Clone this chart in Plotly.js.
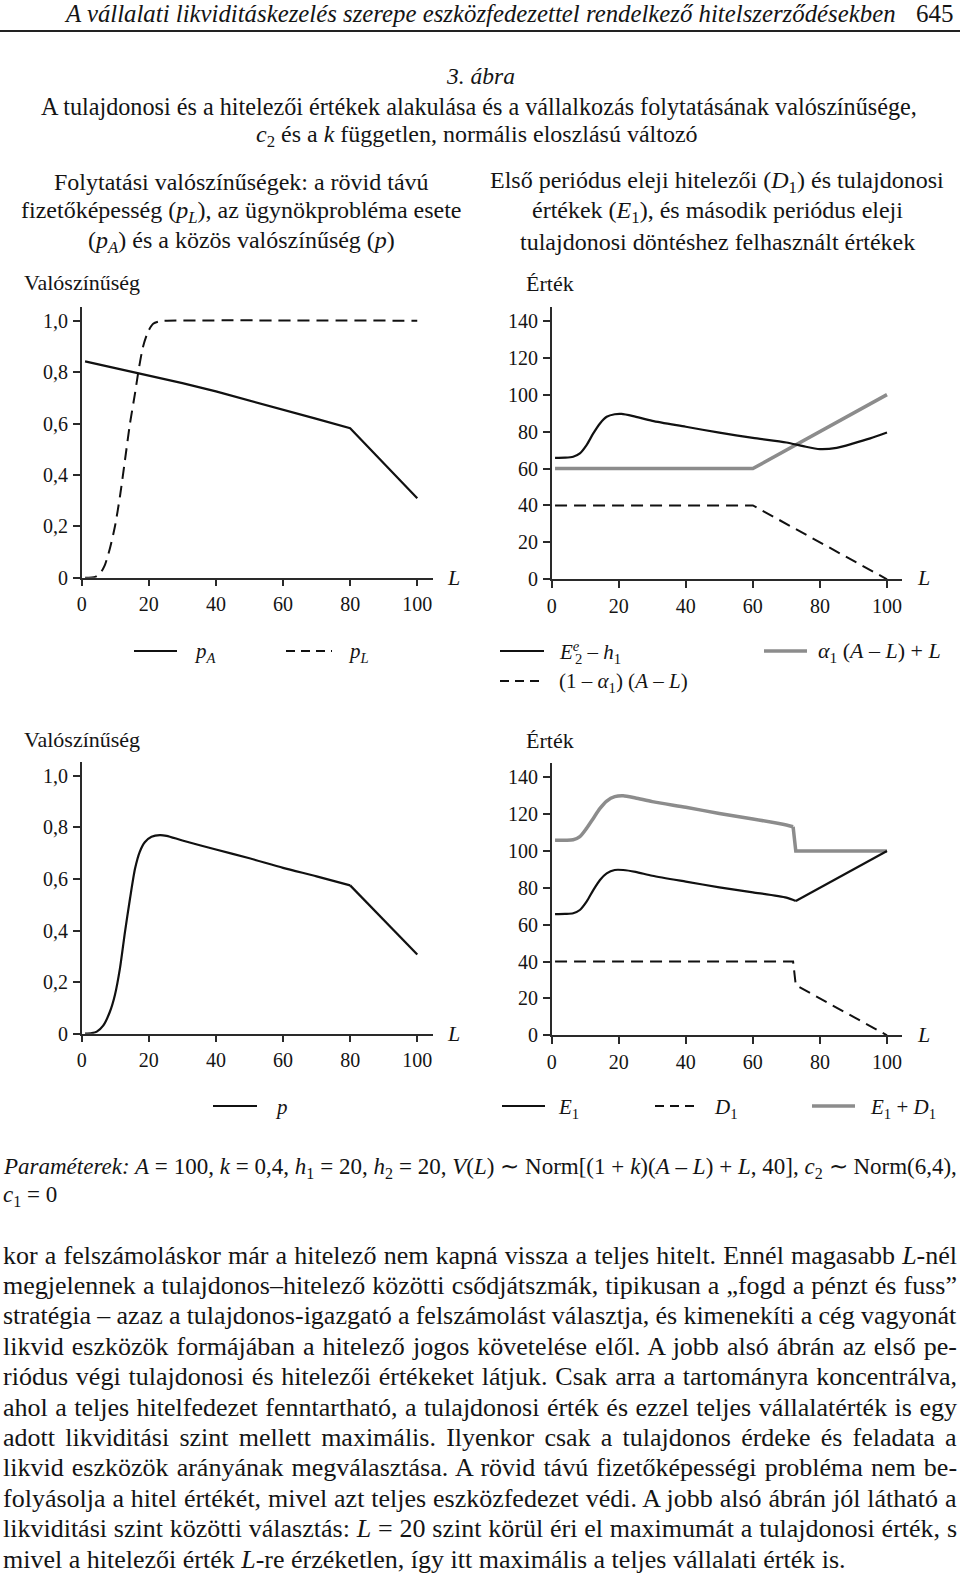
<!DOCTYPE html>
<html>
<head>
<meta charset="utf-8">
<script src="https://cdn.plot.ly/plotly-3.0.1.min.js"></script>
<style>
  html, body { margin:0; padding:0; background:#fff; }
  #chart { width:960px; height:1576px; }
</style>
</head>
<body>
<div id="chart"></div>
<script>
// ---------------- DATA ----------------
// Top-left: continuation probabilities
const L_pA = [1, 10, 20, 30, 40, 50, 60, 70, 80, 90, 100];
const pA   = [0.842, 0.816, 0.788, 0.757, 0.725, 0.690, 0.653, 0.618, 0.582, 0.445, 0.309];
const L_pL = [1, 4, 5.5, 6.9, 8.4, 9.9, 11.4, 12.9, 14.4, 15.9, 16.9, 18.3, 19.8, 21.3, 23.3, 25, 100];
const pL   = [0, 0.003, 0.017, 0.049, 0.114, 0.199, 0.316, 0.458, 0.601, 0.718, 0.803, 0.900, 0.958, 0.988, 0.998, 1, 1];

// Top-right: values used for the owner's decision
const L_E2 = [1, 4, 6.4, 8.4, 10.4, 12.4, 14.4, 16.4, 18.8, 20.8, 24.3, 30, 40, 50, 60, 70, 75, 80, 85, 90, 95, 100];
const E2h1 = [65.8, 65.9, 66.4, 68.2, 72.7, 79.0, 84.4, 88.0, 89.4, 89.6, 88.4, 85.8, 82.6, 79.4, 76.6, 74.1, 72.1, 70.5, 71.2, 73.6, 76.3, 79.5];
const L_alpha = [1, 60, 100];
const alphaAL = [60, 60, 100];
const L_oneMinus = [1, 60, 100];
const oneMinusAL = [40, 40, 0];

// Bottom-left: joint probability (smooth part up to the kink at L = 80, then the steep part)
const L_p = [1, 3, 4.5, 6.4, 8.4, 9.9, 11.4, 12.9, 14.4, 15.9, 17.3, 18.8, 20.8, 23.3, 25.3, 30, 40, 50, 60, 70, 80];
const p   = [0, 0.002, 0.008, 0.031, 0.085, 0.150, 0.253, 0.395, 0.524, 0.640, 0.705, 0.742, 0.763, 0.770, 0.767, 0.749, 0.714, 0.680, 0.643, 0.610, 0.575];
const L_pEnd = [80, 90, 100];
const pEnd   = [0.575, 0.441, 0.307];

// Bottom-right: first-period values
const L_E1 = [1, 4, 6.4, 8.4, 10.4, 12.4, 14.4, 16.4, 18.8, 21.3, 25, 30, 40, 50, 60, 70, 72.8];
const E1   = [65.8, 65.9, 66.2, 68.0, 72.5, 78.8, 84.3, 87.9, 89.7, 89.7, 88.7, 86.6, 83.4, 80.3, 77.6, 74.7, 72.9];
const L_E1End = [72.8, 100];
const E1End   = [72.9, 100];
const L_D1 = [1, 72, 72.8, 100];
const D1   = [40, 40, 27.2, 0];
const L_ED = [1, 4, 6.4, 8.4, 10.4, 12.4, 14.4, 16.4, 18.8, 21.3, 25, 30, 40, 50, 60, 70, 72];
const ED   = [105.8, 105.9, 106.1, 107.8, 112.3, 117.7, 123.1, 127.1, 129.5, 130.0, 128.8, 126.8, 123.7, 120.4, 117.4, 114.1, 113.2];
const L_EDEnd = [72, 72.8, 100];
const EDEnd   = [113.2, 100, 100];

// Tick labels
const xTickVals = [0, 20, 40, 60, 80, 100];
const xTickText = ['0', '20', '40', '60', '80', '100'];
const probTickVals = [0, 0.2, 0.4, 0.6, 0.8, 1.0];
const probTickText = ['0', '0,2', '0,4', '0,6', '0,8', '1,0'];
const valTickVals = [0, 20, 40, 60, 80, 100, 120, 140];
const valTickText = ['0', '20', '40', '60', '80', '100', '120', '140'];

// ---------------- TEXT HELPERS ----------------
// subscripts / superscripts via baseline-shift (no extra spacer text nodes)
function sb(t, size, it) {
  return '<span style="font-size:' + (size * 0.7).toFixed(1) + 'px;baseline-shift:' + (-0.22 * size).toFixed(1) + 'px' + (it ? ';font-style:italic' : '') + '">' + t + '</span>';
}
function sp(t, size, it, ls) {
  return '<span style="font-size:' + (size * 0.7).toFixed(1) + 'px;baseline-shift:' + (0.38 * size).toFixed(1) + 'px' + (it ? ';font-style:italic' : '') + (ls ? ';letter-spacing:' + ls : '') + '">' + t + '</span>';
}

// Page text below the figure
const paramLines = [
  '<i>Paraméterek: A</i> = 100, <i>k</i> = 0,4, <i>h</i>' + sb('1', 23) + ' = 20, <i>h</i>' + sb('2', 23) + ' = 20, <i>V</i>(<i>L</i>) ∼ Norm[(1 + <i>k</i>)(<i>A</i> – <i>L</i>) + <i>L</i>, 40], <i>c</i>' + sb('2', 23) + ' ∼ Norm(6,4),',
  '<i>c</i>' + sb('1', 23) + ' = 0'
];
const bodyLines = [
  'kor a felszámoláskor már a hitelező nem kapná vissza a teljes hitelt. Ennél magasabb <i>L</i>-nél',
  'megjelennek a tulajdonos–hitelező közötti csődjátszmák, tipikusan a „fogd a pénzt és fuss”',
  'stratégia – azaz a tulajdonos-igazgató a felszámolást választja, és kimenekíti a cég vagyonát',
  'likvid eszközök formájában a hitelező jogos követelése elől. A jobb alsó ábrán az első pe-',
  'riódus végi tulajdonosi és hitelezői értékeket látjuk. Csak arra a tartományra koncentrálva,',
  'ahol a teljes hitelfedezet fenntartható, a tulajdonosi érték és ezzel teljes vállalatérték is egy',
  'adott likviditási szint mellett maximális. Ilyenkor csak a tulajdonos érdeke és feladata a',
  'likvid eszközök arányának megválasztása. A rövid távú fizetőképességi probléma nem be-',
  'folyásolja a hitel értékét, mivel azt teljes eszközfedezet védi. A jobb alsó ábrán jól látható a',
  'likviditási szint közötti választás: <i>L</i> = 20 szint körül éri el maximumát a tulajdonosi érték, s',
  'mivel a hitelezői érték <i>L</i>-re érzéketlen, így itt maximális a teljes vállalati érték is.'
];

// ---------------- STYLE / LAYOUT ----------------
const W = 960, H = 1576;
const SERIF = 'Liberation Serif, Times New Roman, serif';
const INK = '#141414';
const AX = '#2a2a2a';
const GRAY = '#8c8c8c';
const DASH = '12px,7px';
const fx = x => x / W;
const fy = y => 1 - y / H;

function axis(domainPx, range, tv, tt, isX) {
  const a = {
    range: range, showline: true, linecolor: AX, linewidth: 1.5,
    ticks: 'outside', ticklen: 7, tickwidth: 1.5, tickcolor: AX,
    showgrid: false, zeroline: false, fixedrange: true,
    tickmode: 'array', tickvals: tv, ticktext: tt,
    tickfont: { family: SERIF, size: 20, color: INK }
  };
  if (isX) { a.domain = [fx(domainPx[0]), fx(domainPx[1])]; a.ticklabelstandoff = 1; }
  else { a.domain = [fy(domainPx[1]), fy(domainPx[0])]; a.ticklabelstandoff = 1; }
  return a;
}

const leftX = [81.7, 432.7], rightX = [551.7, 902.4];
const xr = [0, 104.6];

const blackLine = { color: '#111', width: 2.2 };
const blackCurve = { color: '#111', width: 2.2, shape: 'spline', smoothing: 0.7 };
const dashLine = { color: '#111', width: 2, dash: DASH };
const dashCurve = { color: '#111', width: 2, dash: DASH, shape: 'spline', smoothing: 0.7 };
const grayLine = { color: GRAY, width: 3.5 };
const grayCurve = { color: GRAY, width: 3.5, shape: 'spline', smoothing: 0.7 };

const traces = [
  { x: L_pA, y: pA, xaxis: 'x', yaxis: 'y', mode: 'lines', line: blackLine, name: 'pA' },
  { x: L_pL, y: pL, xaxis: 'x', yaxis: 'y', mode: 'lines', line: dashCurve, name: 'pL' },
  { x: L_alpha, y: alphaAL, xaxis: 'x2', yaxis: 'y2', mode: 'lines', line: grayLine, name: 'α1(A–L)+L' },
  { x: L_E2, y: E2h1, xaxis: 'x2', yaxis: 'y2', mode: 'lines', line: blackCurve, name: 'E2e–h1' },
  { x: L_oneMinus, y: oneMinusAL, xaxis: 'x2', yaxis: 'y2', mode: 'lines', line: dashLine, name: '(1–α1)(A–L)' },
  { x: L_p, y: p, xaxis: 'x3', yaxis: 'y3', mode: 'lines', line: blackCurve, name: 'p' },
  { x: L_pEnd, y: pEnd, xaxis: 'x3', yaxis: 'y3', mode: 'lines', line: blackLine, name: 'p' },
  { x: L_ED, y: ED, xaxis: 'x4', yaxis: 'y4', mode: 'lines', line: grayCurve, name: 'E1+D1' },
  { x: L_EDEnd, y: EDEnd, xaxis: 'x4', yaxis: 'y4', mode: 'lines', line: grayLine, name: 'E1+D1' },
  { x: L_E1, y: E1, xaxis: 'x4', yaxis: 'y4', mode: 'lines', line: blackCurve, name: 'E1' },
  { x: L_E1End, y: E1End, xaxis: 'x4', yaxis: 'y4', mode: 'lines', line: blackLine, name: 'E1' },
  { x: L_D1, y: D1, xaxis: 'x4', yaxis: 'y4', mode: 'lines', line: dashLine, name: 'D1' }
];

function ann(text, x, y, o) {
  return Object.assign({
    text: text, xref: 'paper', yref: 'paper', x: fx(x), y: fy(y),
    xanchor: 'center', yanchor: 'middle', showarrow: false,
    font: { family: SERIF, size: 24, color: INK }
  }, o || {});
}
const f22 = { family: SERIF, size: 22, color: INK };
const f21 = { family: SERIF, size: 21, color: INK };

const annotations = [
  ann('<i>A vállalati likviditáskezelés szerepe eszközfedezettel rendelkező hitelszerződésekben</i>', 62, 14, { xanchor: 'left', font: { family: SERIF, size: 24.8, color: INK } }),
  ann('645', 956, 14, { xanchor: 'right', font: { family: SERIF, size: 25, color: INK } }),
  ann('<i>3. ábra</i>', 480, 76, { font: { family: SERIF, size: 23.5, color: INK } }),
  ann('A tulajdonosi és a hitelezői értékek alakulása és a vállalkozás folytatásának valószínűsége,', 479, 106, { font: { family: SERIF, size: 24.2, color: INK } }),
  ann('<i>c</i>' + sb('2', 24) + ' és a <i>k</i> független, normális eloszlású változó', 477, 136),

  ann('Folytatási valószínűségek: a rövid távú', 241, 182),
  ann('fizetőképesség (<i>p</i>' + sb('L', 24, true) + '), az ügynökprobléma esete', 241, 212),
  ann('(<i>p</i>' + sb('A', 24, true) + ') és a közös valószínűség (<i>p</i>)', 241, 242),
  ann('Első periódus eleji hitelezői (<i>D</i>' + sb('1', 24) + ') és tulajdonosi', 717, 182),
  ann('értékek (<i>E</i>' + sb('1', 24) + '), és második periódus eleji', 717, 212),
  ann('tulajdonosi döntéshez felhasznált értékek', 717, 242),

  ann('Valószínűség', 22, 282, { xanchor: 'left', font: f22 }),
  ann('Érték', 550, 283, { font: f22 }),
  ann('Valószínűség', 22, 739, { xanchor: 'left', font: f22 }),
  ann('Érték', 550, 740, { font: f22 }),
  ann('<i>L</i>', 453, 577, { font: f22 }),
  ann('<i>L</i>', 923, 577, { font: f22 }),
  ann('<i>L</i>', 453, 1033, { font: f22 }),
  ann('<i>L</i>', 923, 1034, { font: f22 }),

  // legend labels
  ann('<i>p</i>' + sb('A', 21, true), 192, 652, { xanchor: 'left', font: f21 }),
  ann('<i>p</i>' + sb('L', 21, true), 346, 652, { xanchor: 'left', font: f21 }),
  ann('<i>E</i>' + sp('e', 21, true, '-0.3em') + sb('2', 21) + ' – <i>h</i>' + sb('1', 21), 557, 652, { xanchor: 'left', font: f21 }),
  ann('<i>α</i>' + sb('1', 22) + ' (<i>A</i> – <i>L</i>) + <i>L</i>', 816, 652, { xanchor: 'left', font: f22 }),
  ann('(1 – <i>α</i>' + sb('1', 21) + ') (<i>A</i> – <i>L</i>)', 557, 682, { xanchor: 'left', font: f21 }),
  ann('<i>p</i>', 273, 1107, { xanchor: 'left', font: f21 }),
  ann('<i>E</i>' + sb('1', 21), 556, 1108, { xanchor: 'left', font: f21 }),
  ann('<i>D</i>' + sb('1', 21), 712, 1108, { xanchor: 'left', font: f21 }),
  ann('<i>E</i>' + sb('1', 21) + ' + <i>D</i>' + sb('1', 21), 868, 1108, { xanchor: 'left', font: f21 })
];

// page text as annotations (justified after drawing)
const JUST_START = annotations.length;
const justify = [];
const pf = { family: SERIF, size: 23, color: INK };
const bf = { family: SERIF, size: 26, color: INK };
annotations.push(ann(paramLines[0], 1, 1168, { xanchor: 'left', align: 'left', font: pf })); justify.push(true);
annotations.push(ann(paramLines[1], 1, 1196, { xanchor: 'left', align: 'left', font: pf })); justify.push(false);
bodyLines.forEach((t, i) => {
  annotations.push(ann(t, 1, 1255 + i * 30.4, { xanchor: 'left', align: 'left', font: bf }));
  justify.push(i < bodyLines.length - 1);
});

function seg(x0, x1, y, line) {
  return { type: 'line', xref: 'paper', yref: 'paper', x0: fx(x0), x1: fx(x1), y0: fy(y), y1: fy(y), line: line };
}
const shapes = [
  seg(0, 960, 31, { color: '#222', width: 2 }),
  seg(134, 177, 651, { color: '#111', width: 2.2 }),
  seg(286, 332, 651, { color: '#111', width: 2, dash: '9px,6px' }),
  seg(500, 544, 651, { color: '#111', width: 2.2 }),
  seg(764, 807, 651, { color: GRAY, width: 3.5 }),
  seg(500, 544, 681, { color: '#111', width: 2, dash: '9px,6px' }),
  seg(213, 257, 1106, { color: '#111', width: 2.2 }),
  seg(502, 545, 1106, { color: '#111', width: 2.2 }),
  seg(655, 698, 1106, { color: '#111', width: 2, dash: '9px,6px' }),
  seg(812, 855, 1106, { color: GRAY, width: 3.5 })
];

const layout = {
  width: W, height: H, autosize: false,
  margin: { l: 0, r: 0, t: 0, b: 0, pad: 0 },
  paper_bgcolor: '#fff', plot_bgcolor: 'rgba(0,0,0,0)',
  showlegend: false,
  font: { family: SERIF, color: INK },
  xaxis:  axis(leftX,  xr, xTickVals, xTickText, true),
  yaxis:  axis([306.7, 577.7], [0, 1.0545], probTickVals, probTickText, false),
  xaxis2: axis(rightX, xr, xTickVals, xTickText, true),
  yaxis2: axis([307.3, 579.3], [0, 147.3], valTickVals, valTickText, false),
  xaxis3: axis(leftX,  xr, xTickVals, xTickText, true),
  yaxis3: axis([762.3, 1033.7], [0, 1.052], probTickVals, probTickText, false),
  xaxis4: axis(rightX, xr, xTickVals, xTickText, true),
  yaxis4: axis([763.3, 1035.3], [0, 147.6], valTickVals, valTickText, false),
  annotations: annotations,
  shapes: shapes
};
layout.xaxis.anchor = 'y'; layout.yaxis.anchor = 'x';
layout.xaxis2.anchor = 'y2'; layout.yaxis2.anchor = 'x2';
layout.xaxis3.anchor = 'y3'; layout.yaxis3.anchor = 'x3';
layout.xaxis4.anchor = 'y4'; layout.yaxis4.anchor = 'x4';

Plotly.newPlot('chart', traces, layout, { displayModeBar: false, responsive: false }).then(gd => {
  const TARGET = 955;
  const nodes = gd.querySelectorAll('.annotation');
  justify.forEach((j, k) => {
    if (!j) return;
    const g = nodes[JUST_START + k];
    if (!g) return;
    const t = g.querySelector('.annotation-text');
    if (!t) return;
    const w = t.getBBox().width;
    const n = (t.textContent.match(/ /g) || []).length;
    const ws = (TARGET - 1 - w) / Math.max(n, 1);
    t.style.wordSpacing = ws.toFixed(2) + 'px';
  });
});
</script>
</body>
</html>
